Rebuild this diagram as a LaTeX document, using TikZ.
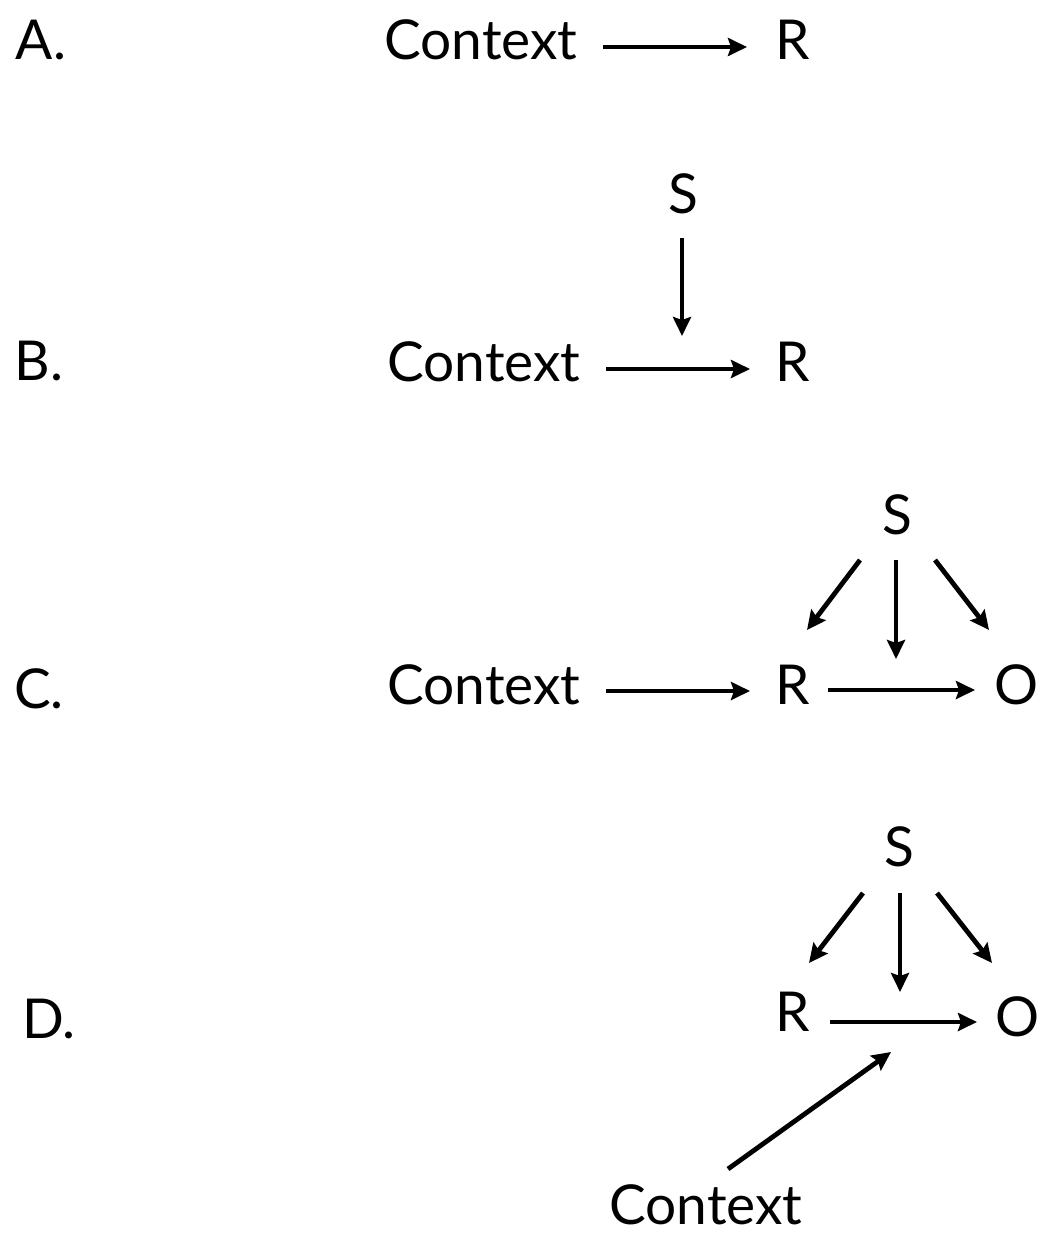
\documentclass[tikz,border=0pt]{standalone}
\usepackage{fontspec}
\setmainfont{Lato}
\usetikzlibrary{arrows.meta}
\tikzset{
  lbl/.style={anchor=base, inner sep=0pt, font=\fontsize{55}{62}\selectfont},
  arr/.style={-{Stealth[length=19pt,width=18pt,inset=3pt]}, line width=4.8pt}
}
\begin{document}
\begin{tikzpicture}[x=1pt,y=-1pt]
\useasboundingbox (0,0) rectangle (1046,1236);
% A
\node[lbl] (la) at (41,60) {A.};
\node[lbl] (ca) at (481,60) {Context};
\node[lbl] (ra) at (793,60) {R};
\draw[arr] (603,47) -- (747,47);
% B
\node[lbl] (lb) at (39,380) {B.};
\node[lbl] (sb) at (683,213) {S};
\node[lbl] (cb) at (484,381) {Context};
\node[lbl] (rb) at (793,381) {R};
\draw[arr] (606,369) -- (750,369);
\draw[arr] (682,238) -- (682,336);
% C
\node[lbl] (lc) at (39,708) {C.};
\node[lbl] (sc) at (897,534) {S};
\node[lbl] (cc) at (484,704) {Context};
\node[lbl] (rc) at (793,704) {R};
\node[lbl] (oc) at (1016,704) {O};
\draw[arr] (606,691) -- (750,691);
\draw[arr] (828,690) -- (975,690);
\draw[arr] (860,560) -- (807,630);
\draw[arr] (896,560) -- (896,659);
\draw[arr] (935,560) -- (989,630);
% D
\node[lbl] (ld) at (49,1038) {D.};
\node[lbl] (sd) at (899,866) {S};
\node[lbl] (rd) at (793,1031) {R};
\node[lbl] (od) at (1017,1036) {O};
\node[lbl] (cd) at (706,1224) {Context};
\draw[arr] (830,1022) -- (977,1022);
\draw[arr] (863,893) -- (809,963);
\draw[arr] (900,893) -- (900,992);
\draw[arr] (937,893) -- (992,963);
\draw[arr] (728,1169) -- (891,1052);
\end{tikzpicture}
\end{document}
